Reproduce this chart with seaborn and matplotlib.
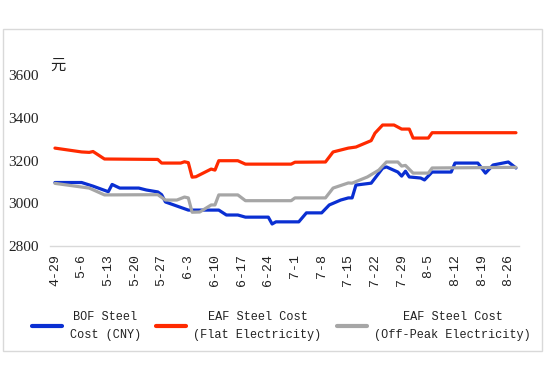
import pandas as pd
import matplotlib
matplotlib.use("Agg")
import matplotlib.pyplot as plt
import matplotlib.patches as mpatches
import seaborn as sns

sns.set_style("white")
plt.rcParams["font.family"] = ["Liberation Serif", "Noto Sans CJK SC", "DejaVu Sans"]

START = pd.Timestamp("2024-04-29")

# values at the dates where the line changes (day offset from 4-29)
bof_days = [0, 7, 10, 14, 15, 17, 22, 24, 27, 28, 29, 35, 43, 45, 48, 50, 56, 57, 58, 64,
            66, 70, 72, 75, 77, 78, 79, 83, 86, 87, 90, 91, 92, 93, 96, 97, 99, 104, 105,
            111, 113, 115, 119, 121]
bof_cost = [3097, 3097, 3080, 3054, 3088, 3071, 3071, 3062, 3053, 3040, 3006, 2968, 2968,
            2945, 2945, 2935, 2935, 2903, 2913, 2913, 2955, 2955, 2992, 3015, 3025, 3025,
            3085, 3094, 3164, 3170, 3146, 3127, 3150, 3123, 3118, 3109, 3146, 3146, 3188,
            3188, 3141, 3179, 3193, 3165]

flat_days = [0, 7, 9, 10, 13, 27, 28, 33, 34, 35, 36, 37, 41, 42, 43, 48, 50, 62, 63, 71,
             73, 77, 79, 83, 84, 86, 89, 91, 93, 94, 98, 99, 121]
flat_cost = [3258, 3240, 3238, 3242, 3207, 3205, 3188, 3188, 3194, 3190, 3122, 3124, 3160,
             3155, 3199, 3199, 3183, 3183, 3192, 3193, 3240, 3258, 3263, 3293, 3328, 3366,
             3366, 3347, 3347, 3305, 3305, 3330, 3330]

peak_days = [0, 9, 13, 27, 29, 32, 34, 35, 36, 38, 41, 42, 43, 48, 50, 62, 63, 71, 73, 77,
             78, 82, 85, 87, 90, 91, 92, 94, 98, 99, 121]
peak_cost = [3093, 3071, 3039, 3040, 3015, 3015, 3029, 3025, 2958, 2959, 2992, 2992, 3039,
             3039, 3012, 3012, 3025, 3025, 3071, 3095, 3094, 3123, 3155, 3193, 3193, 3174,
             3177, 3141, 3141, 3165, 3168]

tick_labels = ["4-29", "5-6", "5-13", "5-20", "5-27", "6-3", "6-10", "6-17", "6-24",
               "7-1", "7-8", "7-15", "7-22", "7-29", "8-5", "8-12", "8-19", "8-26"]

labels = ["BOF Steel\nCost (CNY)", "EAF Steel Cost\n(Flat Electricity)",
          "EAF Steel Cost\n(Off-Peak Electricity)"]
colors = ["#0a2fd2", "#ff2a00", "#a6a6a6"]


def to_dates(days):
    return START + pd.to_timedelta(days, unit="D")


fig = plt.figure(figsize=(5.5, 3.69), dpi=100)
fig.patches.append(mpatches.Rectangle((3 / 550, 1 - 351 / 369), 539 / 550, 322 / 369,
                                      transform=fig.transFigure, fill=False,
                                      edgecolor="#d9d9d9", linewidth=1))
ax = fig.add_axes([50 / 550, 1 - 246 / 369, 469 / 550, 171 / 369])

for days, vals, lab, col in [(bof_days, bof_cost, labels[0], colors[0]),
                             (flat_days, flat_cost, labels[1], colors[1]),
                             (peak_days, peak_cost, labels[2], colors[2])]:
    d = pd.DataFrame({"date": to_dates(days), "cost": vals})
    sns.lineplot(data=d, x="date", y="cost", ax=ax, color=col, linewidth=2.3, label=lab,
                 solid_capstyle="round", solid_joinstyle="round")

ax.set_ylim(2800, 3600)
ax.set_yticks([2800, 3000, 3200, 3400, 3600])
ax.set_xlim(START - pd.Timedelta(days=1.3), START + pd.Timedelta(days=121.8))
ax.set_xticks(to_dates([7 * i for i in range(len(tick_labels))]))
ax.set_xticklabels(tick_labels, rotation=90, family="Liberation Mono", fontsize=9.5)
ax.tick_params(axis="y", labelsize=11, length=0, pad=8, colors="#222222")
ax.tick_params(axis="x", length=0, pad=6, colors="#222222")
ax.set_xlabel("")
ax.set_ylabel("")
for s in ["top", "right", "left"]:
    ax.spines[s].set_visible(False)
ax.spines["bottom"].set_color("#d9d9d9")
ax.spines["bottom"].set_linewidth(1)

fig.text(58 / 550, 1 - 65 / 369, "元", family=["Noto Sans CJK SC"], fontsize=11,
         ha="center", va="center", color="#222222")

leg = ax.legend(loc="center left", bbox_to_anchor=(32 / 550, 1 - 326 / 369),
                bbox_transform=fig.transFigure, ncol=3, frameon=False,
                prop={"family": "Liberation Mono", "size": 8.6}, handlelength=2.55,
                handletextpad=0.6, columnspacing=1.25, borderaxespad=0, borderpad=0)
for t in leg.get_texts():
    t.set_multialignment("center")
    t.set_linespacing(1.7)
    t.set_color("#222222")
for h in leg.get_lines():
    h.set_linewidth(3)

fig.savefig("out.png", dpi=100)
